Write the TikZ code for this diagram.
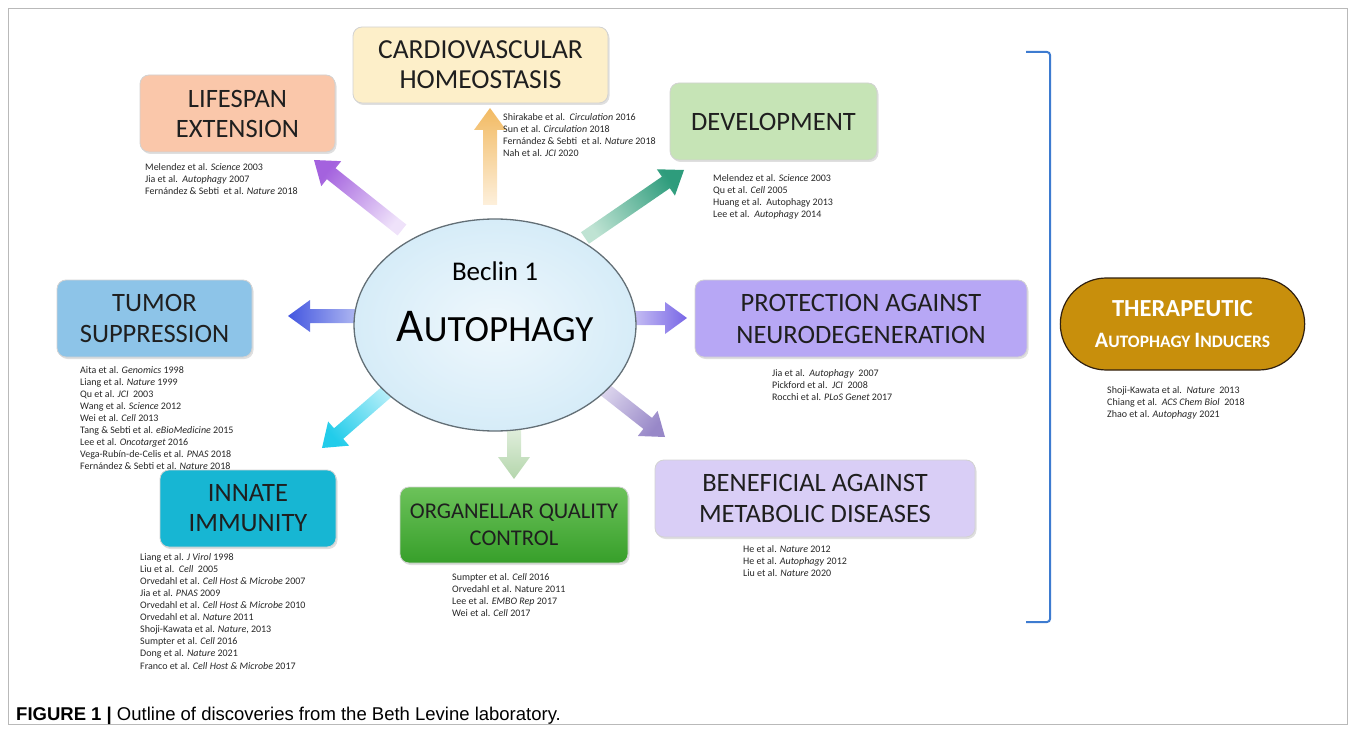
\documentclass[tikz,border=0pt]{standalone}
\usepackage{fontspec}
\setmainfont{Carlito}
\newfontfamily\capfont{Liberation Sans}
\usetikzlibrary{calc,shapes.geometric,shapes.misc,shadows,arrows.meta}
\newcommand{\sz}[2]{\fontsize{#1}{#2}\selectfont}
% block arrow: base, tip, light colour, dark colour, shading angle
\newcommand{\blockarrow}[5]{%
  \coordinate (#1h) at ($(#2)!22pt!(#1)$);
  \shade[bottom color=#3, top color=#4, shading angle=#5]
    ($(#1)!7pt!90:(#2)$) -- ($(#1h)!7pt!-90:(#1)$) -- ($(#1h)!16pt!-90:(#1)$) --
    (#2) -- ($(#1h)!16pt!90:(#1)$) -- ($(#1h)!7pt!90:(#1)$) -- ($(#1)!7pt!-90:(#2)$) -- cycle;
}
\definecolor{cLife}{HTML}{FAC7AA}
\definecolor{cCardio}{HTML}{FDEFC9}
\definecolor{cDev}{HTML}{C6E4B6}
\definecolor{cProt}{HTML}{B7A7F5}
\definecolor{cBen}{HTML}{D9CEF6}
\definecolor{cOrgT}{HTML}{6CC25A}
\definecolor{cOrgB}{HTML}{379F2A}
\definecolor{cInn}{HTML}{17B6D3}
\definecolor{cTum}{HTML}{8DC4E8}
\definecolor{cTher}{HTML}{C88F0C}
\definecolor{cBracket}{HTML}{3D7BD0}
\definecolor{cCore}{HTML}{D6ECF8}
% arrow colours
\definecolor{aLifeL}{HTML}{EFE2FA}\definecolor{aLifeD}{HTML}{A462DE}
\definecolor{aCarL}{HTML}{FDF0DC}\definecolor{aCarD}{HTML}{F2BA62}
\definecolor{aDevL}{HTML}{BFE3D3}\definecolor{aDevD}{HTML}{2E9C7C}
\definecolor{aProL}{HTML}{CBC4F4}\definecolor{aProD}{HTML}{7866E6}
\definecolor{aBenL}{HTML}{E2DCF0}\definecolor{aBenD}{HTML}{9888C8}
\definecolor{aOrgL}{HTML}{E6F1E2}\definecolor{aOrgD}{HTML}{B4D6AC}
\definecolor{aInnL}{HTML}{C4F2FA}\definecolor{aInnD}{HTML}{22CCEA}
\definecolor{aTumL}{HTML}{B4BCF2}\definecolor{aTumD}{HTML}{4356E0}
\tikzset{
  box/.style={rectangle, rounded corners=9pt, draw=gray!35, line width=0.8pt, align=center,
    text=black!88, inner sep=0pt, drop shadow={shadow xshift=1.5pt, shadow yshift=-2pt, opacity=0.25}},
  refs/.style={anchor=north west, align=left, inner sep=0pt, text=black!85, font=\sz{10}{12.1}},
}
\begin{document}
\begin{tikzpicture}[x=1pt,y=-1pt]
\useasboundingbox (0,0) rectangle (1355,730);
\draw[gray!55, line width=0.8pt] (8,8) rectangle (1347,724);

% arrows (drawn below the central ellipse)
\coordinate (bLife) at (402,230);  \coordinate (tLife) at (314,160);
\coordinate (bCar) at (490,205);   \coordinate (tCar) at (490,108);
\coordinate (bDev) at (585,238);   \coordinate (tDev) at (684,170);
\coordinate (bPro) at (630,318);   \coordinate (tPro) at (687,318);
\coordinate (bBen) at (595,382);   \coordinate (tBen) at (665,437);
\coordinate (bOrg) at (514,422);   \coordinate (tOrg) at (514,479);
\coordinate (bInn) at (398,382);   \coordinate (tInn) at (322,448);
\coordinate (bTum) at (360,316);   \coordinate (tTum) at (288,316);
\blockarrow{bLife}{tLife}{aLifeL}{aLifeD}{51.7}
\blockarrow{bCar}{tCar}{aCarL}{aCarD}{0}
\blockarrow{bDev}{tDev}{aDevL}{aDevD}{-55.5}
\blockarrow{bPro}{tPro}{aProL}{aProD}{-90}
\blockarrow{bBen}{tBen}{aBenL}{aBenD}{-127.9}
\blockarrow{bOrg}{tOrg}{aOrgL}{aOrgD}{-180}
\blockarrow{bInn}{tInn}{aInnL}{aInnD}{130.9}
\blockarrow{bTum}{tTum}{aTumL}{aTumD}{90}

% central ellipse
\node[ellipse, minimum width=282pt, minimum height=212pt, inner color=white!60!cCore, outer color=cCore,
  draw=gray!70!cyan!60!black, line width=1.3pt] (core) at (495,325) {};
\node[font=\sz{27}{30}] (beclin) at (495,271) {Beclin 1};
\node[font=\sz{47}{49}] (autoph) at (495,327) {A\sz{37}{39}UTOPHAGY};

% boxes
\node[box, fill=cLife, minimum width=195pt, minimum height=77pt, font=\sz{26.5}{30}] (life) at (237.5,113.5) {LIFESPAN\\EXTENSION};
\node[box, fill=cCardio, minimum width=255pt, minimum height=76pt, font=\sz{27.5}{30}] (cardio) at (480.5,65) {CARDIOVASCULAR\\HOMEOSTASIS};
\node[box, fill=cDev, minimum width=207pt, minimum height=77pt, font=\sz{26.5}{30}] (dev) at (773.5,121.5) {DEVELOPMENT};
\node[box, fill=cProt, minimum width=332pt, minimum height=77pt, font=\sz{26.5}{32}] (prot) at (861,318.5) {PROTECTION AGAINST\\NEURODEGENERATION};
\node[box, fill=cBen, minimum width=320pt, minimum height=77pt, font=\sz{26.5}{31}] (ben) at (815,498.5) {BENEFICIAL AGAINST\\METABOLIC DISEASES};
\node[box, top color=cOrgT, bottom color=cOrgB, minimum width=228pt, minimum height=76pt, font=\sz{22.5}{27}] (org) at (514,525) {ORGANELLAR QUALITY\\CONTROL};
\node[box, fill=cInn, minimum width=176pt, minimum height=77pt, font=\sz{26.5}{30}] (inn) at (248,508.5) {INNATE\\IMMUNITY};
\node[box, fill=cTum, minimum width=195pt, minimum height=77pt, font=\sz{26.5}{31}] (tum) at (154.5,318.5) {TUMOR\\SUPPRESSION};

% therapeutic
\node[rounded rectangle, fill=cTher, draw=black!75!brown, line width=1.2pt, minimum width=251pt, minimum height=92pt,
  align=center, text=white, font=\bfseries\sz{24.5}{31}] (ther) at (1182.5,324)
  {THERAPEUTIC\\{\sz{22}{24}A\sz{17.5}{20}UTOPHAGY \sz{22}{24}I\sz{17.5}{20}NDUCERS}};

% bracket
\coordinate (brTop) at (1026,52);
\coordinate (brBot) at (1026,622);
\draw[cBracket, line width=2pt, rounded corners=3pt] (brTop) -- (1050,52) -- (1050,622) -- (brBot);

% references
\node[refs] (rLife) at (145,163) {Melendez et al. \textit{Science} 2003\\Jia et al.\ \ \textit{Autophagy} 2007\\Fernández \& Sebti\ \ et al. \textit{Nature} 2018};
\node[refs] (rCar) at (503,113) {Shirakabe et al.\ \ \textit{Circulation} 2016\\Sun et al. \textit{Circulation} 2018\\Fernández \& Sebti\ \ et al. \textit{Nature} 2018\\Nah et al. \textit{JCI} 2020};
\node[refs] (rDev) at (713,174) {Melendez et al. \textit{Science} 2003\\Qu et al. \textit{Cell} 2005\\Huang et al.\ \ Autophagy 2013\\Lee et al.\ \ \textit{Autophagy} 2014};
\node[refs] (rTum) at (80,366) {Aita et al. \textit{Genomics} 1998\\Liang et al. \textit{Nature} 1999\\Qu et al. \textit{JCI}\ \ 2003\\Wang et al. \textit{Science} 2012\\Wei et al. \textit{Cell} 2013\\Tang \& Sebti et al. \textit{eBioMedicine} 2015\\Lee et al. \textit{Oncotarget} 2016\\Vega-Rubín-de-Celis et al. \textit{PNAS} 2018\\Fernández \& Sebti et al. \textit{Nature} 2018};
\node[refs] (rInn) at (140,553) {Liang et al. \textit{J Virol} 1998\\Liu et al.\ \ \textit{Cell}\ \ 2005\\Orvedahl et al. \textit{Cell Host \& Microbe} 2007\\Jia et al. \textit{PNAS} 2009\\Orvedahl et al. \textit{Cell Host \& Microbe} 2010\\Orvedahl et al. \textit{Nature} 2011\\Shoji-Kawata et al. \textit{Nature}, 2013\\Sumpter et al. \textit{Cell} 2016\\Dong et al. \textit{Nature} 2021\\Franco et al. \textit{Cell Host \& Microbe} 2017};
\node[refs] (rOrg) at (452,573) {Sumpter et al. \textit{Cell} 2016\\Orvedahl et al. Nature 2011\\Lee et al. \textit{EMBO Rep} 2017\\Wei et al. \textit{Cell} 2017};
\node[refs] (rPro) at (772,369) {Jia et al.\ \ \textit{Autophagy}\ \ 2007\\Pickford et al.\ \ \textit{JCI}\ \ 2008\\Rocchi et al. \textit{PLoS Genet} 2017};
\node[refs] (rBen) at (743,545) {He et al. \textit{Nature} 2012\\He et al. \textit{Autophagy} 2012\\Liu et al. \textit{Nature} 2020};
\node[refs] (rTher) at (1107,386) {Shoji-Kawata et al.\ \ \textit{Nature}\ \ 2013\\Chiang et al.\ \ \textit{ACS Chem Biol}\ \ 2018\\Zhao et al. \textit{Autophagy} 2021};

% caption
\node[anchor=west, inner sep=0pt, font=\capfont\sz{18.5}{20}] (caption) at (16,716)
  {\textbf{FIGURE 1 |} Outline of discoveries from the Beth Levine laboratory.};
\end{tikzpicture}
\end{document}
